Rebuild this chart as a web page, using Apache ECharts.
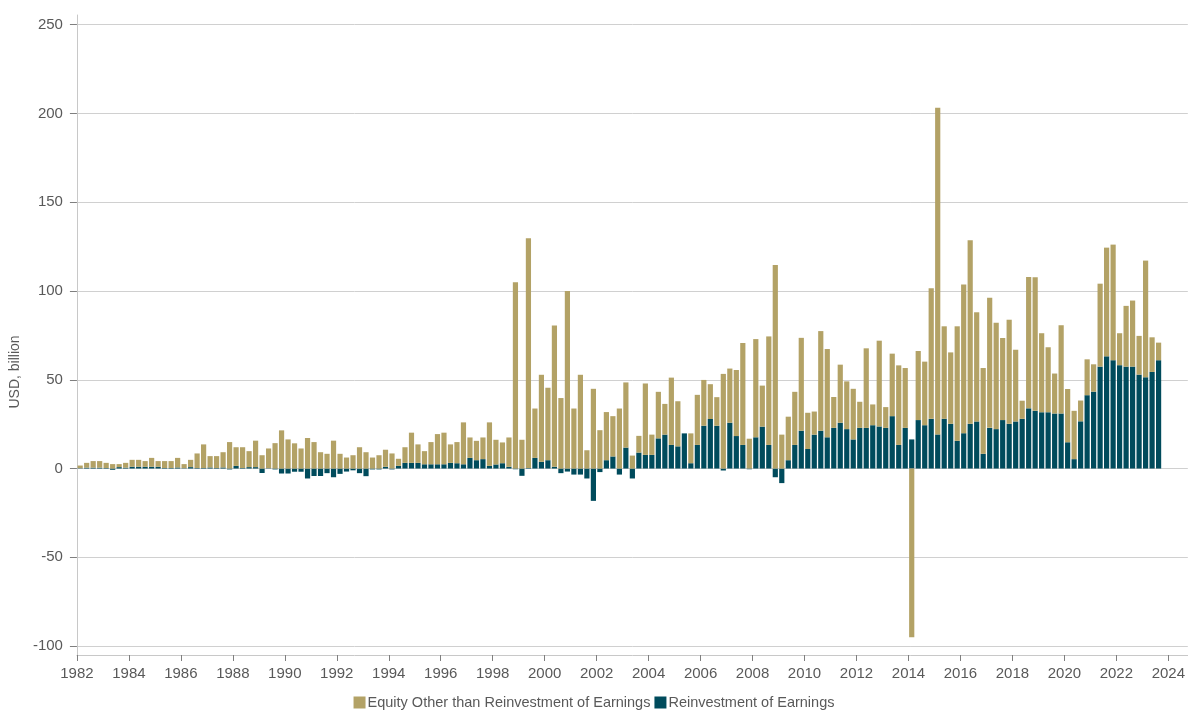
<!DOCTYPE html>
<html>
<head>
<meta charset="utf-8">
<script src="https://cdn.jsdelivr.net/npm/echarts@6/dist/echarts.min.js"></script>
<style>
  html, body { margin: 0; padding: 0; background: #fff; }
  #chart { width: 1188px; height: 711px; }
</style>
</head>
<body>
<div id="chart"></div>
<script>
// quarterly data, 1982Q1 .. 2023Q3 (USD billion)
var startYear = 1982;
var axisQuarters = 171; // axis runs on to 2024Q3

var reinvest = [
  0.2, 0.5, 0.5, 0.5, 0.3, -0.7, 0.8, 0.5, 1.0, 1.0,
  1.0, 1.0, 1.0, 0.3, 0.3, 0.6, 0.2, 0.8, 0.3, 0.3,
  0.6, 0.3, 0.6, -0.5, 1.5, 0.3, 0.8, 0.8, -2.5, 0.2,
  -0.5, -2.8, -2.8, -1.8, -1.8, -5.6, -4.2, -4.2, -2.6, -4.9,
  -3.0, -1.7, -1.0, -2.6, -4.3, -0.5, -0.5, 1.0, -0.5, 1.5,
  3.2, 3.2, 3.2, 2.4, 2.4, 2.4, 2.4, 3.2, 3.0, 2.4,
  6.0, 4.7, 5.3, 1.5, 2.3, 3.0, 1.0, -0.4, -4.1, 0.3,
  6.0, 3.8, 4.7, 1.0, -2.6, -1.7, -3.4, -3.4, -5.6, -18.2,
  -2.0, 4.7, 6.8, -3.4, 11.8, -5.6, 9.0, 7.7, 7.7, 17.0,
  19.1, 13.3, 12.5, 19.8, 3.0, 13.3, 24.1, 27.9, 24.1, -1.1,
  25.8, 18.3, 13.3, -0.4, 17.6, 23.6, 13.3, -4.9, -8.2, 4.7,
  13.3, 21.3, 11.0, 19.1, 21.3, 17.6, 22.9, 25.8, 22.2, 16.4,
  22.9, 22.9, 24.4, 23.7, 22.9, 29.5, 13.3, 22.9, 16.4, 27.3,
  24.4, 28.0, 19.2, 28.0, 25.2, 15.6, 19.9, 25.2, 26.5, 8.3,
  22.9, 22.2, 27.3, 25.2, 26.5, 28.0, 33.9, 32.5, 31.7, 31.7,
  31.0, 31.0, 14.8, 5.3, 26.6, 41.3, 43.3, 57.4, 63.2, 61.0,
  58.2, 57.4, 57.4, 52.9, 51.4, 54.4, 61.0
];

var equityOther = [
  1.5, 2.7, 3.7, 3.7, 2.9, 2.5, 1.7, 2.7, 3.9, 3.9,
  3.2, 5.0, 3.2, 3.9, 3.9, 5.4, 2.3, 4.1, 8.2, 13.3,
  6.4, 6.7, 8.6, 14.9, 10.5, 11.7, 9.0, 14.9, 7.5, 11.1,
  14.3, 21.5, 16.4, 14.2, 11.3, 17.2, 14.9, 9.2, 8.3, 15.7,
  8.3, 6.2, 7.5, 12.0, 9.2, 6.2, 7.5, 9.6, 8.5, 4.0,
  8.8, 17.0, 10.4, 7.4, 12.5, 17.0, 17.8, 10.4, 11.9, 23.6,
  11.5, 10.9, 12.2, 24.5, 13.9, 11.7, 16.5, 104.9, 16.2, 129.4,
  27.8, 49.0, 40.8, 79.6, 39.7, 100.0, 33.8, 52.8, 10.3, 44.9,
  21.6, 27.1, 22.7, 33.8, 36.7, 7.3, 9.4, 40.2, 11.4, 26.2,
  17.3, 37.9, 25.4, 0, 16.8, 28.2, 25.8, 19.6, 16.1, 53.3,
  30.5, 37.2, 57.4, 16.8, 55.3, 23.1, 61.1, 114.6, 19.1, 24.5,
  29.9, 52.3, 20.4, 13.0, 56.1, 49.7, 17.4, 32.7, 26.9, 28.5,
  14.7, 44.8, 11.7, 48.3, 11.7, 35.2, 44.8, 33.7, -95.0, 38.9,
  35.8, 73.5, 184.0, 52.1, 40.2, 64.5, 83.7, 103.4, 61.5, 48.3,
  73.3, 59.9, 46.2, 58.6, 40.4, 10.2, 73.9, 75.2, 44.5, 36.6,
  22.5, 49.7, 30.0, 27.2, 11.7, 20.2, 15.4, 46.7, 61.2, 65.1,
  18.0, 34.2, 37.2, 21.8, 65.7, 19.5, 9.9
];

var yTicks = [-100, -50, 0, 50, 100, 150, 200, 250];
var xTicks = [1982, 1984, 1986, 1988, 1990, 1992, 1994, 1996, 1998, 2000, 2002,
  2004, 2006, 2008, 2010, 2012, 2014, 2016, 2018, 2020, 2022, 2024];

var nameOther = "Equity Other than Reinvestment of Earnings";
var nameReinvest = "Reinvestment of Earnings";

// quarter names for the (hidden) category axis the bars sit on
var quarters = [];
for (var i = 0; i < axisQuarters; i++) {
  quarters.push(startYear + Math.floor(i / 4) + "Q" + ((i % 4) + 1));
}

var font = "'Liberation Sans', Arial, sans-serif";
var myChart = echarts.init(document.getElementById("chart"));
var option = {
  animation: false,
  grid: { left: 76, right: 0, top: 15, bottom: 56 },
  legend: {
    data: [nameOther, nameReinvest],
    left: "center",
    top: 690,
    icon: "rect",
    itemWidth: 12,
    itemHeight: 12,
    itemGap: 4,
    textStyle: { fontFamily: font, fontSize: 14.5, color: "#595959", padding: [0, 0, 0, -3] },
  },
  xAxis: [
    {
      type: "category",
      data: quarters,
      show: false,
    },
    {
      type: "value",
      min: startYear,
      max: startYear + axisQuarters / 4,
      position: "bottom",
      axisLine: { show: true, onZero: false, lineStyle: { color: "#c8c8c8", width: 1 } },
      axisTick: { show: true, length: 6, customValues: xTicks, lineStyle: { color: "#7f7f7f" } },
      axisLabel: {
        customValues: xTicks,
        margin: 11,
        fontFamily: font,
        fontSize: 15,
        color: "#595959",
        formatter: function (v) { return String(v); },
      },
      splitLine: { show: false },
    },
  ],
  yAxis: {
    type: "value",
    min: -105,
    max: 255.4,
    name: "USD, billion",
    nameLocation: "middle",
    nameGap: 52,
    nameTextStyle: { fontFamily: font, fontSize: 14, color: "#595959", padding: [0, 74, 0, 0] },
    axisLine: { show: true, onZero: false, lineStyle: { color: "#c8c8c8", width: 1 } },
    axisTick: { show: true, inside: false, length: 7, customValues: yTicks, lineStyle: { color: "#7f7f7f" } },
    axisLabel: {
      customValues: yTicks,
      margin: 14,
      fontFamily: font,
      fontSize: 15,
      color: "#595959",
    },
    splitLine: { show: true, lineStyle: { color: "#d0d0d0", width: 1 } },
  },
  series: [
    {
      name: nameReinvest,
      type: "bar",
      stack: "fdi",
      xAxisIndex: 0,
      barWidth: "80%",
      itemStyle: { color: "#004b5c" },
      data: reinvest,
    },
    {
      name: nameOther,
      type: "bar",
      stack: "fdi",
      xAxisIndex: 0,
      barWidth: "80%",
      itemStyle: { color: "#b3a266" },
      data: equityOther,
    },
  ],
};
myChart.setOption(option);
</script>
</body>
</html>
